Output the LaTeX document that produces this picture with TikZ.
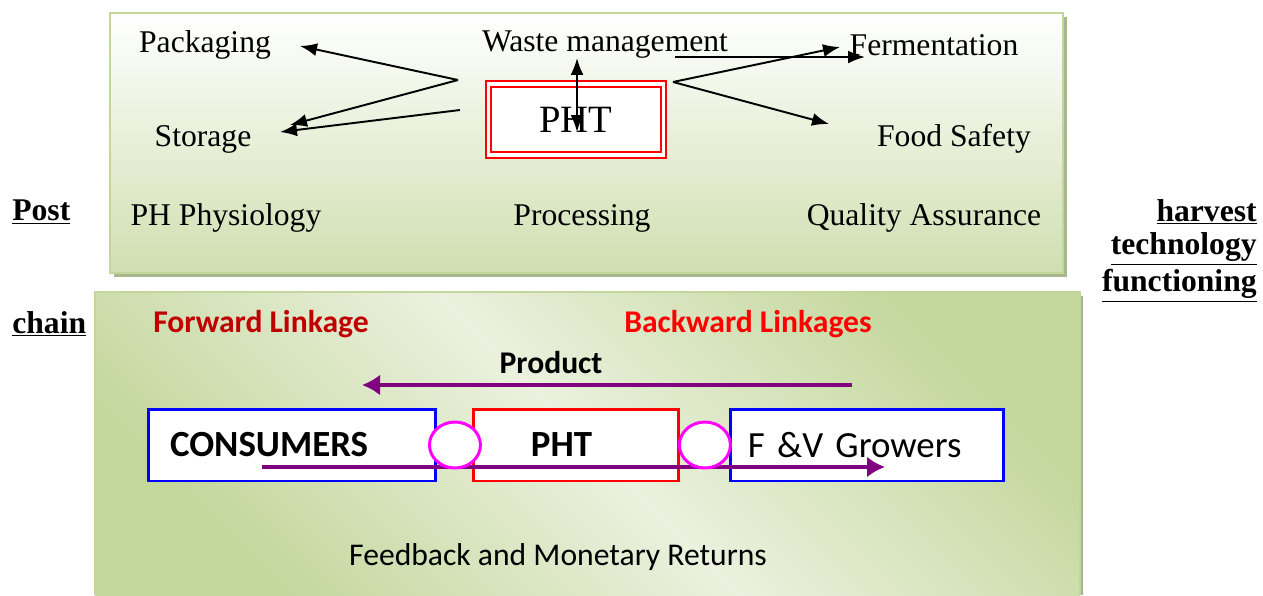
\documentclass[tikz,border=0pt]{standalone}
\usepackage{fontspec}
\setmainfont{Liberation Serif}
\newfontfamily\calibri{Carlito}
\usetikzlibrary{arrows.meta, positioning, calc, shapes, shapes.geometric, shapes.misc}
\definecolor{panelline}{HTML}{C3D69B}
\definecolor{panelshadow}{HTML}{A9B78E}
\definecolor{paneldark}{HTML}{C4D79D}
\definecolor{panellight}{HTML}{EBF1DE}
\definecolor{flowpurple}{HTML}{800080}
\definecolor{jointmag}{HTML}{FF00FF}
\definecolor{fwdred}{HTML}{C00000}

\begin{document}
\begin{tikzpicture}[
        x=0.02cm, y=-0.02cm,
        >=Latex,
        serif/.style={font=\fontsize{18}{20}\selectfont},
        sidelabel/.style={font=\fontsize{18}{20}\selectfont\bfseries, inner sep=0pt},
        sans/.style={font=\calibri\fontsize{18}{20}\selectfont},
        topline/.style={->, line width=1.1pt, >={Latex[length=0.34cm, width=0.26cm]}},
        flow/.style={->, draw=flowpurple, line width=2.8pt, >={Latex[length=0.36cm, width=0.42cm]}},
        linkbox/.style={rectangle, draw, line width=1.7pt, fill=white, minimum height=1.44cm, align=left, font=\calibri\fontsize{21}{23}\selectfont},
        joint/.style={ellipse, draw=jointmag, line width=1.7pt, fill=white, minimum width=1.02cm, minimum height=0.92cm, inner sep=0pt}
    ]
        \useasboundingbox (0,0) rectangle (1263,595);

        % panels
        \fill[panelshadow] (114,17) rectangle (1067,277);
        \shade[top color=white, bottom color=paneldark!80!white, draw=panelline, line width=1.2pt] (110,13) rectangle (1063,273);
        \fill[panelshadow] (1080,296) rectangle (1083,595);
        \shade[shading=axis, top color=paneldark, bottom color=paneldark, middle color=panellight, shading angle=-45] (95,292) rectangle (1080,595);
        \draw[panelline, line width=1.2pt] (95,595) -- (95,292) -- (1080,292) -- (1080,595);

        % top panel
        \node[serif] (pack) at (205,45) {Packaging};
        \node[serif] (waste) at (605,45) {Waste management};
        \node[serif] (ferm) at (934,45) {Fermentation};
        \node[serif] (stor) at (203,139) {Storage};
        \node[serif] (safe) at (954,139) {Food Safety};
        \node[serif] (phys) at (226,218) {PH Physiology};
        \node[serif] (proc) at (582,218) {Processing};
        \node[serif] (qual) at (924,218) {Quality Assurance};
        \node[draw=red, double=white, double distance=2pt, line width=1.2pt, fill=white, minimum width=3.5cm, minimum height=1.43cm, font=\fontsize{22}{24}\selectfont] (pht) at (576,119.5) {PHT\hspace{0.25cm}};

        \coordinate (lsplit) at (458,80);
        \coordinate (lsplit2) at (460,110);
        \coordinate (rsplit) at (673,82);
        \coordinate (packtip) at (300,46);
        \coordinate (stortip) at (290,125);
        \coordinate (stortip2) at (280,132);
        \coordinate (upper) at (577,58);
        \coordinate (lower) at (577,132);
        \coordinate (undl) at (675,57);
        \coordinate (undr) at (865,57);
        \coordinate (fermtip) at (840,47);
        \coordinate (safetip) at (829,124);

        \draw[topline] (lsplit) -- (packtip);
        \draw[topline] (lsplit) -- (stortip);
        \draw[topline] (lsplit2) -- (stortip2);
        \draw[topline, <->] (lower) -- (upper);
        \draw[topline] (undl) -- (undr);
        \draw[topline] (rsplit) -- (fermtip);
        \draw[topline] (rsplit) -- (safetip);

        % side labels
        \node[sidelabel, anchor=west] (post) at (12,212) {\underline{Post}};
        \node[sidelabel, anchor=west] (chain) at (12,324) {\underline{chain}};
        \node[sidelabel, anchor=east] (harv) at (1257,212) {\underline{harvest}};
        \node[sidelabel, anchor=east] (tech) at (1257,249) {\underline{technology}};
        \node[sidelabel, anchor=east] (func) at (1257,286) {\underline{functioning}};

        % bottom panel
        \node[sans, font=\calibri\fontsize{18}{20}\selectfont\bfseries, text=fwdred] (fwd) at (261,324) {Forward Linkage};
        \node[sans, font=\calibri\fontsize{18}{20}\selectfont\bfseries, text=red] (bwd) at (748,324) {Backward Linkages};
        \node[sans, font=\calibri\fontsize{18}{20}\selectfont\bfseries] (prod) at (551,363) {Product};

        \node[linkbox, draw=blue, minimum width=5.76cm, text width=4.88cm, inner xsep=0.44cm] (cons) at (292,445) {\bfseries CONSUMERS};
        \node[linkbox, draw=red, right=0.70cm of cons, minimum width=4.1cm, text width=1.82cm, inner xsep=1.14cm] (phtb) {\bfseries PHT};
        \node[linkbox, draw=blue, right=0.98cm of phtb, minimum width=5.46cm, text width=4.78cm, inner xsep=0.34cm] (grow) {F~\&V Growers};

        \coordinate (prodstart) at (852,385);
        \coordinate (prodend) at (362,385);
        \coordinate (feedstart) at (262,467);
        \coordinate (feedend) at (885,467);
        \draw[flow] (prodstart) -- (prodend);
        \draw[flow] (feedstart) -- (feedend);

        \node[joint] (j1) at ($(cons.east)!0.5!(phtb.west)$) {};
        \node[joint] (j2) at ($(phtb.east)!0.5!(grow.west)$) {};

        \node[sans] (feed) at (558,557) {Feedback and Monetary Returns};
    \end{tikzpicture}
\end{document}
